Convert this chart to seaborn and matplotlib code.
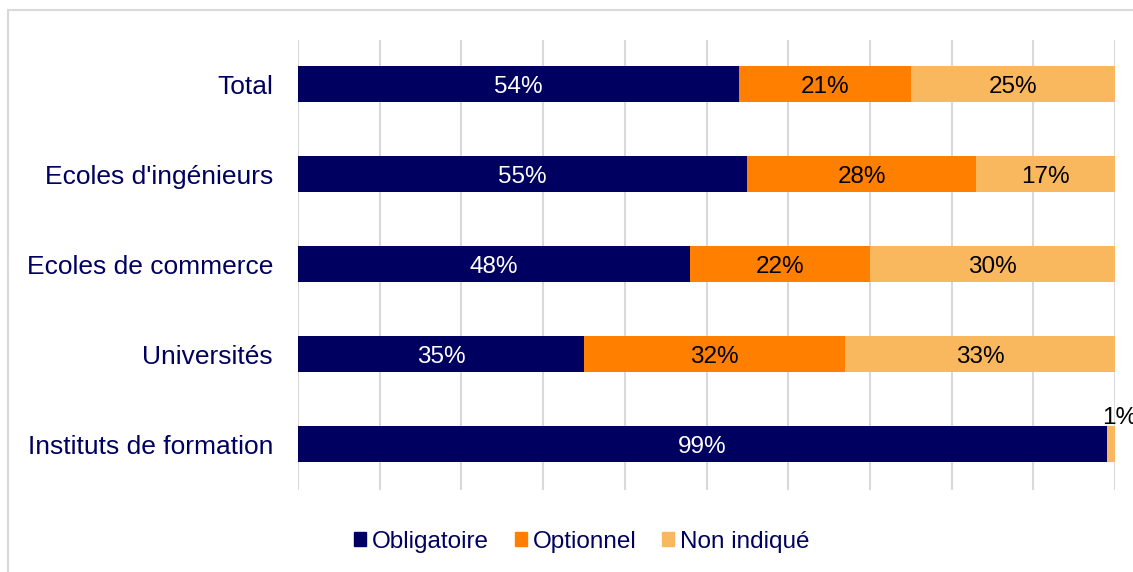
import matplotlib.pyplot as plt
import matplotlib.patches as mpatches
import seaborn as sns
import pandas as pd
import numpy as np

categories = ['Total', "Ecoles d'ingénieurs", 'Ecoles de commerce', 'Universités', 'Instituts de formation']
obligatoire = [54, 55, 48, 35, 99]
optionnel = [21, 28, 22, 32, 0]
non_indique = [25, 17, 30, 33, 1]
series_names = ['Obligatoire', 'Optionnel', 'Non indiqué']
colors = ['#000060', '#FF8000', '#FAB85E']
navy = '#000060'

df = pd.DataFrame({'cat': categories, 'obl': obligatoire, 'opt': optionnel, 'non': non_indique})
df['c1'] = df['obl']
df['c2'] = df['obl'] + df['opt']
df['c3'] = df['c2'] + df['non']

sns.set_style('white')
plt.rcParams['font.family'] = ['Liberation Sans', 'DejaVu Sans']

fig = plt.figure(figsize=(11.33, 5.72), dpi=100)
ax = fig.add_axes([298 / 1133, 1 - 490 / 572, (1115 - 298) / 1133, 450 / 572])

# stacked bars: draw cumulative totals from largest to smallest
for col, c in zip(['c3', 'c2', 'c1'], colors[::-1]):
    sns.barplot(data=df, y='cat', x=col, color=c, saturation=1, width=0.4, orient='h',
                linewidth=0, ax=ax, zorder=2)

ax.set_xlim(0, 100)
ax.set_ylim(4.51, -0.49)
ax.set_xticks(np.arange(0, 101, 10))
ax.set_xticklabels([])
ax.xaxis.grid(True, color='#D9D9D9', linewidth=1.5, zorder=0)
ax.set_axisbelow(True)
for s in ax.spines.values():
    s.set_visible(False)
ax.tick_params(axis='both', length=0)
ax.set_xlabel('')
ax.set_ylabel('')
ax.tick_params(axis='y', labelsize=19, labelcolor=navy, pad=18)

# value labels
fs = 17.5
for i, row in df.iterrows():
    ax.text(row['obl'] / 2, i, f"{row['obl']}%", ha='center', va='center_baseline',
            color='white', fontsize=fs, zorder=3)
    if row['opt'] > 0:
        ax.text(row['c1'] + row['opt'] / 2, i, f"{row['opt']}%", ha='center', va='center_baseline',
                color='black', fontsize=fs, zorder=3)
    if row['non'] >= 5:
        ax.text(row['c2'] + row['non'] / 2, i, f"{row['non']}%", ha='center', va='center_baseline',
                color='black', fontsize=fs, zorder=3)
    elif row['non'] > 0:
        ax.text(row['c2'] + row['non'] / 2 + 1.1, i - 0.17, f"{row['non']}%", ha='center', va='bottom',
                color='black', fontsize=fs, zorder=3, clip_on=False)

# legend entries placed like the original
legend_x = [354, 515, 662]
for c, n, x in zip(colors, series_names, legend_x):
    leg = fig.legend(handles=[mpatches.Patch(color=c, label=n)], loc='center left',
                     bbox_to_anchor=(x / 1133, 1 - 542 / 572), frameon=False, fontsize=17.5,
                     handlelength=0.5, handleheight=0.5, handletextpad=0.25,
                     borderpad=0, borderaxespad=0)
    for t in leg.get_texts():
        t.set_color(navy)

# light outer frame
fig.add_artist(mpatches.Rectangle((8 / 1133, -0.05), 1.2, (572 - 10) / 572 + 0.05, fill=False,
                                  edgecolor='#D9D9D9', linewidth=1.5, transform=fig.transFigure))

fig.savefig('out.png', dpi=100)
